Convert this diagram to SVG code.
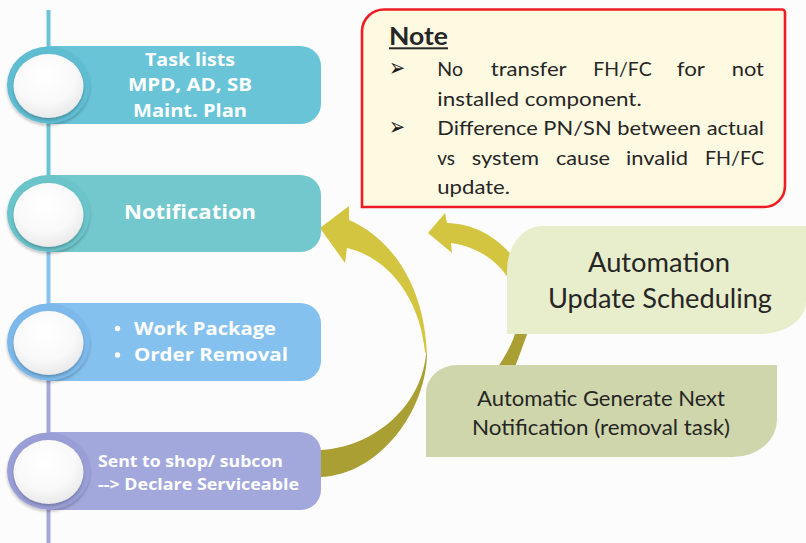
<svg xmlns="http://www.w3.org/2000/svg" width="806" height="543" viewBox="0 0 806 543">
<defs>
<radialGradient id="white" cx="0.45" cy="0.35" r="0.7">
<stop offset="0" stop-color="#ffffff"/>
<stop offset="0.6" stop-color="#f9f9f9"/>
<stop offset="1" stop-color="#e6e6e6"/>
</radialGradient>
<filter id="sh" x="-20%" y="-20%" width="140%" height="140%">
<feGaussianBlur in="SourceAlpha" stdDeviation="1.5"/>
<feOffset dx="0" dy="1.5"/>
<feComponentTransfer><feFuncA type="linear" slope="0.25"/></feComponentTransfer>
<feMerge><feMergeNode/><feMergeNode in="SourceGraphic"/></feMerge>
</filter>
</defs>
<style>
.nt{font-family:"Open Sans","DejaVu Sans",sans-serif;font-weight:700;fill:#ffffff}
.cal{font-family:Lato,"Open Sans","DejaVu Sans",sans-serif;fill:#262626}
.bul{font-family:"DejaVu Sans",sans-serif;fill:#1a1a1a}
.inner{fill:url(#white)}
.up{fill:#d3c540}
.dn{fill:#a99f32}
</style>
<rect width="806" height="543" fill="#fcfcfc"/>

<g id="connectors">
<line x1="48.5" y1="10" x2="48.5" y2="214" stroke="#6dc3d6" stroke-width="4"/>
<line x1="48.5" y1="214" x2="48.5" y2="342" stroke="#88c3ef" stroke-width="4"/>
<line x1="48.5" y1="342" x2="48.5" y2="543" stroke="#a3a8dc" stroke-width="4"/>
<path class="up" d="M320,228 L349,206 L349,220 C395,240 425,290 427,355 L425,352 C420,300 390,258 347,248 L345,263 Z"/>
<path class="dn" d="M427,352 C427,410 380,475 320,477 L312,477 L312,450 L320,450 C370,448 420,410 426,355 Z"/>
<path class="up" d="M428,233 L445,213 L447,223 C485,224 520,250 535,300 L518,300 C508,265 480,247 451,243 L452,253 Z"/>
<path class="dn" d="M535,300 C534,318 526,338 512,375 L492,375 C515,345 522,320 518,300 Z"/>
</g>

<g id="node-task-lists">
<path d="M48,46 H300 A21,20 0 0 1 321,66 V104 A21,20 0 0 1 300,124 H48 Z" fill="#69c4d8"/>
<ellipse cx="48.5" cy="85" rx="41.5" ry="38.5" fill="#5fbdd2" filter="url(#sh)"/>
<ellipse class="inner" cx="48.5" cy="86" rx="35" ry="32" filter="url(#sh)"/>
<text class="nt" font-size="17.5" text-anchor="middle" x="190" y="65.5" textLength="90" lengthAdjust="spacingAndGlyphs">Task lists</text>
<text class="nt" font-size="17.5" text-anchor="middle" x="190" y="91" textLength="124" lengthAdjust="spacingAndGlyphs">MPD, AD, SB</text>
<text class="nt" font-size="17.5" text-anchor="middle" x="190" y="116.5" textLength="114" lengthAdjust="spacingAndGlyphs">Maint. Plan</text>
</g>

<g id="node-notification">
<path d="M48,175 H300 A21,20 0 0 1 321,195 V232 A21,20 0 0 1 300,252 H48 Z" fill="#73c8cd"/>
<ellipse cx="48.5" cy="213.5" rx="41.5" ry="38.5" fill="#6bc4ca" filter="url(#sh)"/>
<ellipse class="inner" cx="48.5" cy="215" rx="35" ry="32" filter="url(#sh)"/>
<text class="nt" font-size="20" text-anchor="middle" x="190" y="219" textLength="132" lengthAdjust="spacingAndGlyphs">Notification</text>
</g>

<g id="node-work-package">
<path d="M48,303 H300 A21,20 0 0 1 321,323 V361 A21,20 0 0 1 300,381 H48 Z" fill="#85c1ee"/>
<ellipse cx="48.5" cy="342" rx="41.5" ry="38.5" fill="#7bb9ea" filter="url(#sh)"/>
<ellipse class="inner" cx="48.5" cy="343" rx="35" ry="32" filter="url(#sh)"/>
<circle cx="117.5" cy="328.5" r="2.7" fill="#ffffff"/>
<circle cx="117.5" cy="355" r="2.7" fill="#ffffff"/>
<text class="nt" font-size="18.5" x="134" y="334.5" textLength="142" lengthAdjust="spacingAndGlyphs">Work Package</text>
<text class="nt" font-size="18.5" x="134" y="361" textLength="154" lengthAdjust="spacingAndGlyphs">Order Removal</text>
</g>

<g id="node-sent-to-shop">
<path d="M48,432 H300 A21,20 0 0 1 321,452 V490 A21,20 0 0 1 300,510 H48 Z" fill="#a3a8dc"/>
<ellipse cx="48.5" cy="471" rx="41.5" ry="38.5" fill="#999fd6" filter="url(#sh)"/>
<ellipse class="inner" cx="48.5" cy="472" rx="35" ry="32" filter="url(#sh)"/>
<text class="nt" font-size="15.5" x="98" y="466.5" textLength="185" lengthAdjust="spacingAndGlyphs">Sent to shop/ subcon</text>
<text class="nt" font-size="15.5" x="98" y="489.5" textLength="201" lengthAdjust="spacingAndGlyphs">--&gt; Declare Serviceable</text>
</g>

<g id="note">
<path d="M362,207 V31 A22,22 0 0 1 384,9.5 H782 A3,3 0 0 1 785,12.5 V186 A21,21 0 0 1 764,207 Z" fill="#fef9e1" stroke="#ee1c24" stroke-width="2.6"/>
<text class="cal" font-size="25" font-weight="700" x="389" y="44.5" textLength="59" lengthAdjust="spacingAndGlyphs">Note</text>
<rect x="389" y="47.3" width="59" height="2" fill="#262626"/>
<text class="bul" font-size="25" x="389" y="76" textLength="16" lengthAdjust="spacingAndGlyphs">➢</text>
<text class="bul" font-size="25" x="389" y="135" textLength="16" lengthAdjust="spacingAndGlyphs">➢</text>
<g class="cal" font-size="20">
<text x="437.3" y="76" textLength="25.7" lengthAdjust="spacingAndGlyphs">No</text>
<text x="490.7" y="76" textLength="76" lengthAdjust="spacingAndGlyphs">transfer</text>
<text x="593.3" y="76" textLength="58.4" lengthAdjust="spacingAndGlyphs">FH/FC</text>
<text x="676.7" y="76" textLength="28.3" lengthAdjust="spacingAndGlyphs">for</text>
<text x="731.7" y="76" textLength="32.3" lengthAdjust="spacingAndGlyphs">not</text>
<text x="437.3" y="106" textLength="204.4" lengthAdjust="spacingAndGlyphs">installed component.</text>
<text x="437.3" y="135" textLength="326.7" lengthAdjust="spacingAndGlyphs">Difference PN/SN between actual</text>
<text x="437.3" y="164.5" textLength="17.7" lengthAdjust="spacingAndGlyphs">vs</text>
<text x="471.7" y="164.5" textLength="67.3" lengthAdjust="spacingAndGlyphs">system</text>
<text x="556" y="164.5" textLength="54" lengthAdjust="spacingAndGlyphs">cause</text>
<text x="626" y="164.5" textLength="62" lengthAdjust="spacingAndGlyphs">invalid</text>
<text x="705" y="164.5" textLength="59" lengthAdjust="spacingAndGlyphs">FH/FC</text>
<text x="437.3" y="193.5" textLength="72.7" lengthAdjust="spacingAndGlyphs">update.</text>
</g>
</g>

<g id="automation">
<path d="M507,334 V270 A35,44 0 0 1 542,226 H806 V302 A46,32 0 0 1 760,334 Z" fill="#e8edcb"/>
<text class="cal" font-size="26" text-anchor="middle" x="659" y="272" textLength="142" lengthAdjust="spacingAndGlyphs">Automation</text>
<text class="cal" font-size="26" text-anchor="middle" x="660" y="307.5" textLength="224" lengthAdjust="spacingAndGlyphs">Update Scheduling</text>
</g>

<g id="auto-generate">
<path d="M426,457 V393 A31,28 0 0 1 457,365 H777 V420 A44,37 0 0 1 733,457 Z" fill="#cfd6ab"/>
<text class="cal" font-size="20.5" text-anchor="middle" x="601" y="406" textLength="248" lengthAdjust="spacingAndGlyphs">Automatic Generate Next</text>
<text class="cal" font-size="20.5" text-anchor="middle" x="601" y="434.5" textLength="258" lengthAdjust="spacingAndGlyphs">Notification (removal task)</text>
</g>
</svg>
